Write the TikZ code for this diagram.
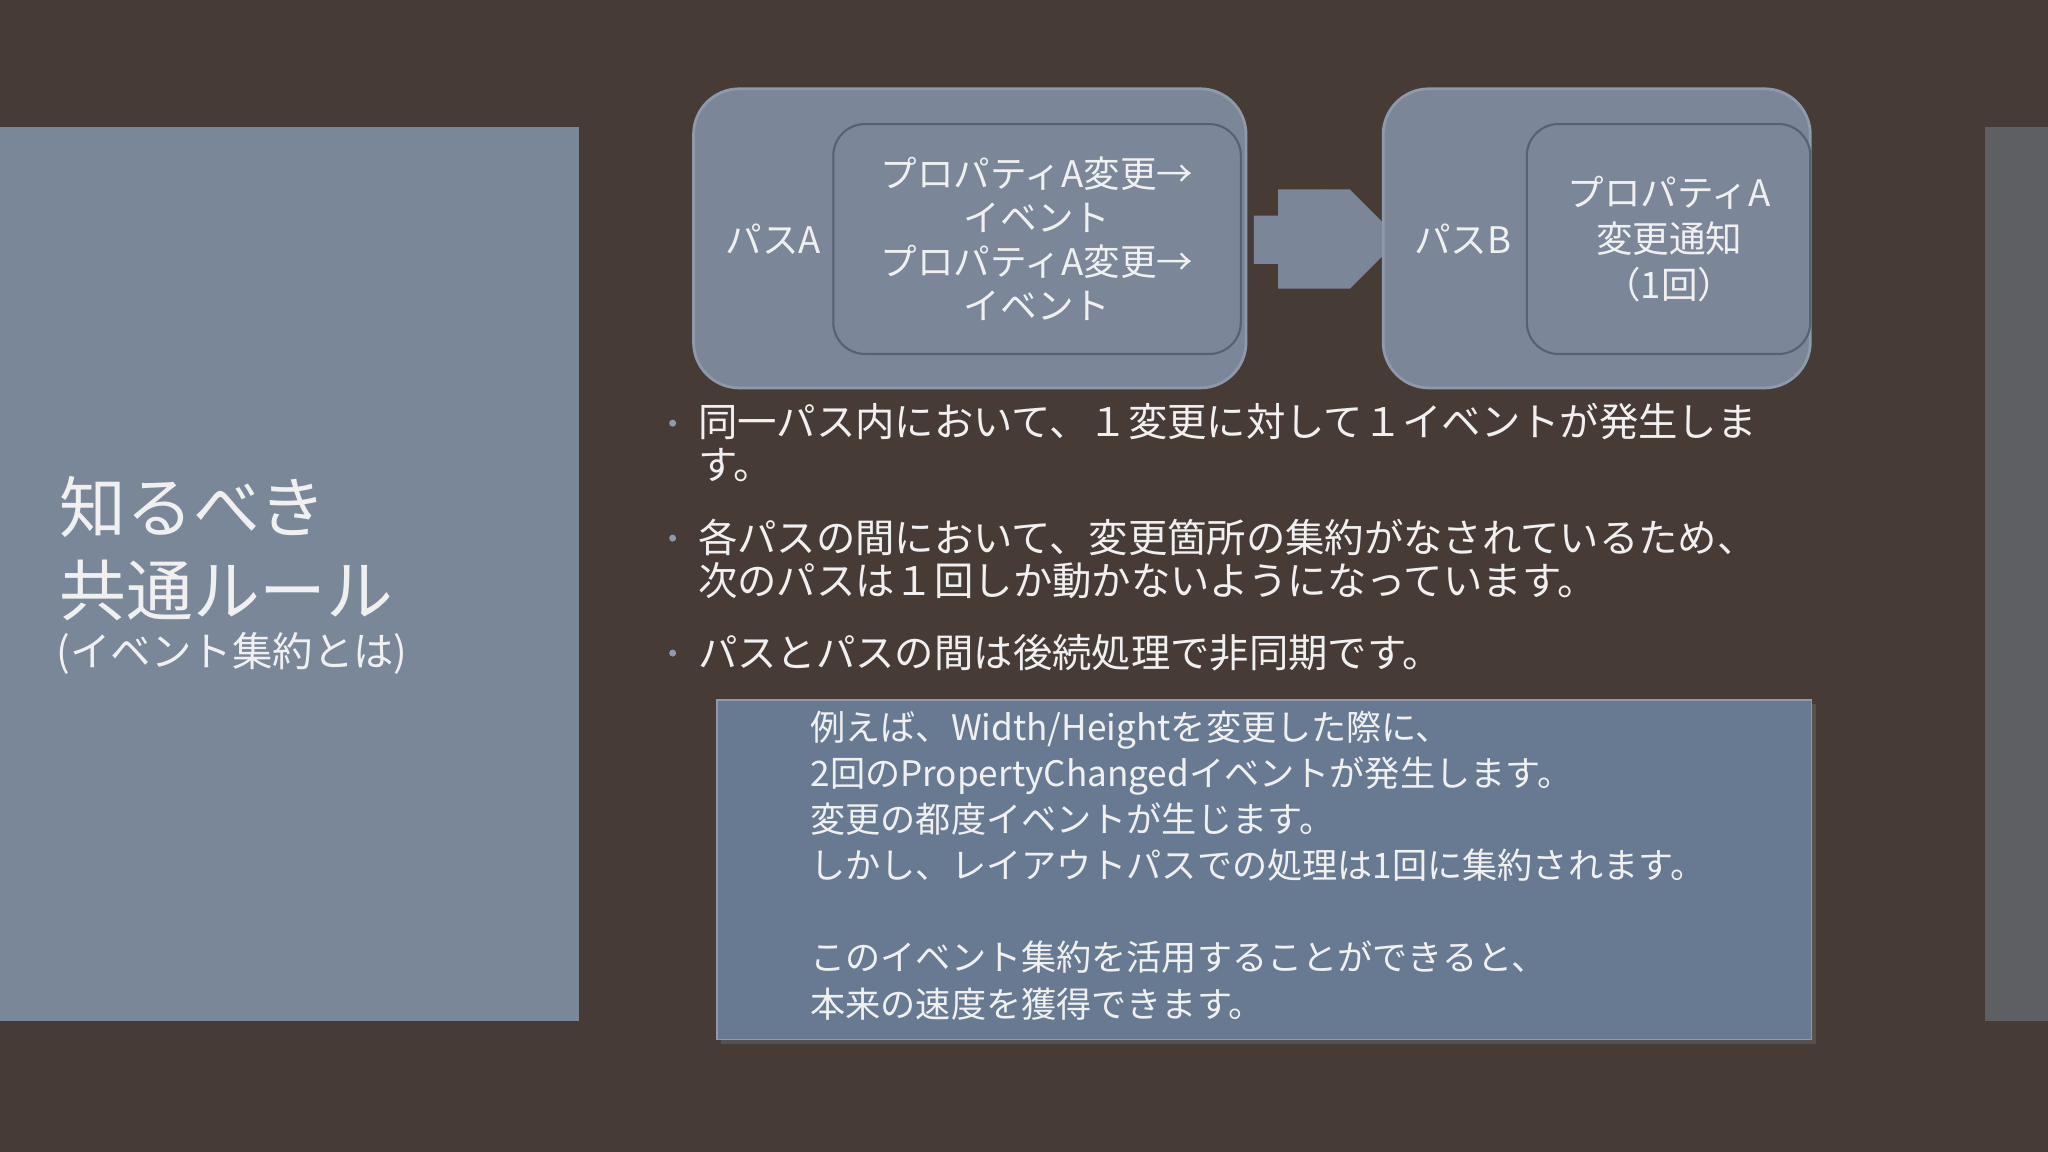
\documentclass[tikz,border=0pt]{standalone}
\usepackage{fontspec}
\setmainfont{Noto Sans CJK JP}
\usetikzlibrary{shapes.arrows,shadows}
\definecolor{bgc}{HTML}{463C35}
\definecolor{panel}{HTML}{7A8799}
\definecolor{edgep}{HTML}{5E5F63}
\definecolor{boxf}{HTML}{7B8799}
\definecolor{boxl}{HTML}{8E9AAB}
\definecolor{inl}{HTML}{566173}
\definecolor{notef}{HTML}{677A92}
\definecolor{txt}{HTML}{F0F0F0}
\tikzset{
 outerbox/.style={draw=boxl,line width=0.8pt,fill=boxf,rounded corners=13pt},
 innerbox/.style={draw=inl,line width=0.6pt,rounded corners=9pt},
 lbl/.style={text=txt,font=\fontsize{10.4pt}{13pt}\selectfont,align=center,inner sep=0pt},
 bul/.style={text=txt,font=\fontsize{11.2pt}{12.3pt}\selectfont,align=left,anchor=north west,inner sep=0pt},
 dotb/.style={circle,fill=boxl,inner sep=0pt,minimum size=2pt},
}
\begin{document}
\begin{tikzpicture}[x=0.013061cm,y=-0.013061cm]
\fill[bgc] (0,0) rectangle (1568,882);
\useasboundingbox (0,0) rectangle (1568,882);
\fill[panel] (0,97) rectangle (443,782);
\fill[edgep] (1520,97) rectangle (1568,782);
\node[text=txt,anchor=west,inner sep=0pt,font=\fontsize{19pt}{24pt}\selectfont] (t1) at (45,388) {知るべき};
\node[text=txt,anchor=west,inner sep=0pt,font=\fontsize{19pt}{24pt}\selectfont] (t2) at (45,452) {共通ルール};
\node[text=txt,anchor=west,inner sep=0pt,font=\fontsize{11.5pt}{14pt}\selectfont] (t3) at (43,500) {(イベント集約とは)};
% box A
\draw[outerbox] (531,68) rectangle (954,297);
\draw[innerbox] (638,95) rectangle (950,271);
\node[lbl] (pa) at (592,183) {パスA};
\node[lbl,align=center] (ia) at (794,183) {プロパティA変更→\\[-0.5pt]イベント\\[-0.5pt]プロパティA変更→\\[-0.5pt]イベント};
% arrow
\node[single arrow,fill=boxf,draw=none,minimum height=93*0.013061cm,minimum width=76*0.013061cm,single arrow head extend=0pt,inner sep=0pt,single arrow tip angle=90] (ar) at (1006,183) {};
\fill[boxf] (960,165) -- (1015,165) -- (1015,145) -- (1053,183) -- (1015,221) -- (1015,202) -- (960,202) -- cycle;
% box B
\draw[outerbox] (1059,68) rectangle (1386,297);
\draw[innerbox] (1169,95) rectangle (1386,271);
\node[lbl] (pb) at (1120,183) {パスB};
\node[lbl] (ib) at (1278,183) {プロパティA\\[0pt]変更通知\\[0pt]（1回）};
% bullets
\node[dotb] (d1) at (515,324) {};
\node[bul] (b1) at (534,308) {同一パス内において、１変更に対して１イベントが発生しま\\す。};
\node[dotb] (d2) at (515,412) {};
\node[bul] (b2) at (534,397) {各パスの間において、変更箇所の集約がなされているため、\\次のパスは１回しか動かないようになっています。};
\node[dotb] (d3) at (515,500) {};
\node[bul] (b3) at (534,485) {パスとパスの間は後続処理で非同期です。};
% note box
\fill[black!60,opacity=0.5] (552,539) rectangle (1390,799);
\draw[fill=notef,draw=boxl,line width=0.4pt] (549,536) rectangle (1387,796);
\node[text=txt,anchor=north west,align=left,inner sep=0pt,font=\fontsize{10pt}{13.1pt}\selectfont] (nt) at (620,544) {例えば、Width/Heightを変更した際に、\\2回のPropertyChangedイベントが発生します。\\変更の都度イベントが生じます。\\しかし、レイアウトパスでの処理は1回に集約されます。\\[13.1pt]このイベント集約を活用することができると、\\本来の速度を獲得できます。};
\end{tikzpicture}
\end{document}
